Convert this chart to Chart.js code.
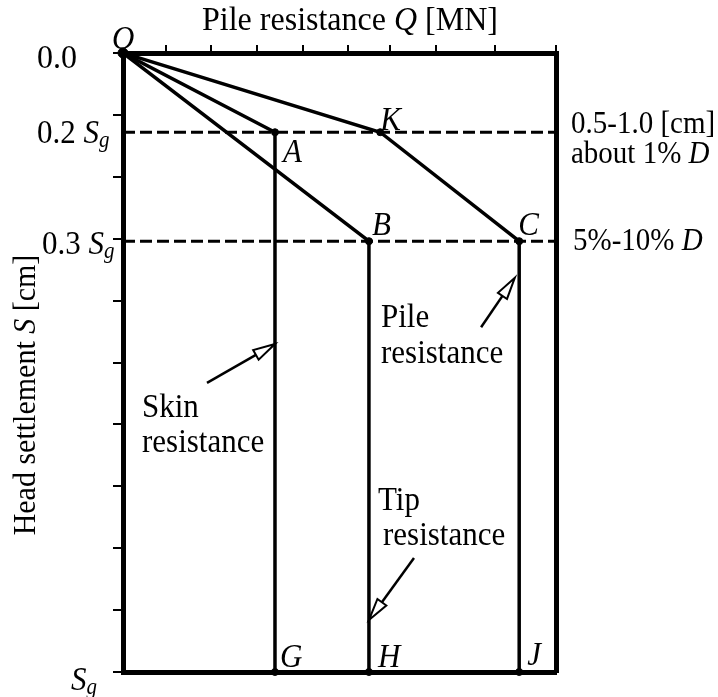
<!DOCTYPE html>
<html>
<head>
<meta charset="utf-8">
<script src="https://cdn.jsdelivr.net/npm/chart.js@4.4.1/dist/chart.umd.min.js"></script>
<style>
  html, body { margin: 0; padding: 0; background: #fff; }
  canvas { display: block; }
</style>
</head>
<body>
<canvas id="c" width="718" height="697"></canvas>
<script>
// ---------------- DATA ----------------
// Axis units: Q from 0 to 10 (schematic), S from 0 (top) to 10 (= Sg, bottom)
const pointNames = ['O', 'A', 'K', 'B', 'C', 'G', 'H', 'J'];
const pointQ     = [0,   3.51, 5.94, 5.68, 9.15, 3.51, 5.68, 9.15];
const pointS     = [0,   1.28, 1.28, 3.04, 3.04, 10,   10,   10];

const skinPath = ['O', 'A', 'G'];
const tipPath  = ['O', 'B', 'H'];
const pilePath = ['O', 'K', 'C', 'J'];

const levelS = [1.28, 3.04];           // dashed reference levels (0.2 Sg, 0.3 Sg)

const topTickValues  = [0.99, 2.03, 3.09, 4.16, 5.20, 6.17, 7.23, 8.59, 10];
const leftTickValues = [0, 1, 2, 3, 4, 5, 6, 7, 8, 9, 10];

// left axis labels: [value, parts]
const leftLabelValues = [0, 1.28, 3.04, 10];
const leftLabelParts = [
  [['0.0', '']],
  [['0.2 ', ''], ['S', 'i'], ['g', 'sub']],
  [['0.3 ', ''], ['S', 'i'], ['g', 'sub']],
  [['S', 'i'], ['g', 'sub']]
];

// right-side level notes
const rightNoteValues = [1.28, 1.28, 3.04];
const rightNoteParts = [
  [['0.5-1.0 [cm]', '']],
  [['about 1% ', ''], ['D', 'i']],
  [['5%-10% ', ''], ['D', 'i']]
];

// arrows: tail (Q,S) -> tip (Q,S)
const arrowTailQ = [1.94, 8.27, 6.72];
const arrowTailS = [5.33, 4.43, 8.16];
const arrowTipQ  = [3.51, 9.05, 5.68];
const arrowTipS  = [4.70, 3.63, 9.16];

const noteTexts = ['Skin', 'resistance', 'Pile', 'resistance', 'Tip', 'resistance'];

// ---------------- LAYOUT / STYLE ----------------
const FONT = '"Liberation Serif", "Times New Roman", serif';
const STRETCH = 1.07; // slight vertical stretch of the reference lettering
const layoutPx = {
  top: 53, left: 123, right: 718 - 556, bottom: 697 - 672
};
// label offsets relative to point pixel (dx, dy to baseline)
const pointLabelOffsets = {
  O: [-11, -4], A: [8, 30], K: [0, -2], B: [3, -6], C: [-1, -6],
  G: [5, -5], H: [9, -5], J: [8, -7]
};
const leftLabelPos = [[37, 15, 'left', 32], [37, 11, 'left', 31], [42, 13, 'left', 31], [71, 18, 'left', 31]];
const rightNotePos = [[571, 1], [571, 31], [573, 9]];
const notePos = [[142, 417], [142, 452], [381, 327], [381, 363], [378, 510], [383, 545]];

function idx(n) { return pointNames.indexOf(n); }
function pathData(p) { return p.map(n => ({ x: pointQ[idx(n)], y: pointS[idx(n)] })); }

function fontFor(st, size) {
  if (st === 'sub') return 'italic ' + Math.round(size * 0.68) + 'px ' + FONT;
  if (st === 'i') return 'italic ' + size + 'px ' + FONT;
  return size + 'px ' + FONT;
}
function drawRich(ctx, parts, x, y, size, align) {
  let w = 0;
  parts.forEach(p => { ctx.font = fontFor(p[1], size); w += ctx.measureText(p[0]).width; });
  let cx = align === 'center' ? x - w / 2 : (align === 'right' ? x - w : x);
  ctx.save();
  ctx.translate(0, y);
  ctx.scale(1, STRETCH);
  ctx.textAlign = 'left';
  ctx.textBaseline = 'alphabetic';
  parts.forEach(p => {
    ctx.font = fontFor(p[1], size);
    ctx.fillText(p[0], cx, (p[1] === 'sub' ? size * 0.12 : 0));
    cx += ctx.measureText(p[0]).width;
  });
  ctx.restore();
}

function drawArrow(ctx, x1, y1, x2, y2) {
  const ang = Math.atan2(y2 - y1, x2 - x1);
  const L = 22, H = 5.5;
  const bx = x2 - L * Math.cos(ang), by = y2 - L * Math.sin(ang);
  ctx.save();
  ctx.strokeStyle = '#000';
  ctx.lineWidth = 2.5;
  ctx.beginPath();
  ctx.moveTo(x1, y1);
  ctx.lineTo(bx, by);
  ctx.stroke();
  ctx.beginPath();
  ctx.moveTo(x2, y2);
  ctx.lineTo(bx + H * Math.sin(ang), by - H * Math.cos(ang));
  ctx.lineTo(bx - H * Math.sin(ang), by + H * Math.cos(ang));
  ctx.closePath();
  ctx.fillStyle = '#fff';
  ctx.fill();
  ctx.lineWidth = 2;
  ctx.stroke();
  ctx.restore();
}

const annotPlugin = {
  id: 'annot',
  afterDraw(chart) {
    const ctx = chart.ctx;
    const xs = chart.scales.x, ys = chart.scales.y;
    ctx.save();
    ctx.fillStyle = '#000';

    // title
    drawRich(ctx, [['Pile resistance ', ''], ['Q', 'i'], [' [MN]', '']], 350, 30, 32, 'center');

    // y title (rotated)
    ctx.save();
    ctx.translate(35, 395);
    ctx.rotate(-Math.PI / 2);
    drawRich(ctx, [['Head settlement ', ''], ['S', 'i'], [' [cm]', '']], 0, 0, 30, 'center');
    ctx.restore();

    // left labels
    leftLabelValues.forEach((v, i) => {
      const p = leftLabelPos[i];
      drawRich(ctx, leftLabelParts[i], p[0], ys.getPixelForValue(v) + p[1], p[3], p[2]);
    });

    // right notes
    rightNoteValues.forEach((v, i) => {
      const p = rightNotePos[i];
      drawRich(ctx, rightNoteParts[i], p[0], ys.getPixelForValue(v) + p[1], 29, 'left');
    });

    // point labels
    pointNames.forEach((n, i) => {
      const o = pointLabelOffsets[n];
      drawRich(ctx, [[n, 'i']], xs.getPixelForValue(pointQ[i]) + o[0], ys.getPixelForValue(pointS[i]) + o[1], 31, 'left');
    });

    // notes
    noteTexts.forEach((t, i) => {
      drawRich(ctx, [[t, '']], notePos[i][0], notePos[i][1], 31, 'left');
    });

    // arrows
    arrowTailQ.forEach((q, i) => {
      drawArrow(ctx,
        xs.getPixelForValue(q), ys.getPixelForValue(arrowTailS[i]),
        xs.getPixelForValue(arrowTipQ[i]), ys.getPixelForValue(arrowTipS[i]));
    });
    ctx.restore();
  }
};

const lineStyle = { showLine: true, borderColor: '#000', backgroundColor: '#000', borderWidth: 3.5, pointRadius: 0, fill: false, tension: 0 };

new Chart(document.getElementById('c'), {
  type: 'scatter',
  data: {
    datasets: [
      Object.assign({ label: 'Skin resistance', data: pathData(skinPath) }, lineStyle),
      Object.assign({ label: 'Tip resistance', data: pathData(tipPath) }, lineStyle),
      Object.assign({ label: 'Pile resistance', data: pathData(pilePath) }, lineStyle),
      ...levelS.map(s => ({
        label: 'level', data: [{ x: 0, y: s }, { x: 10, y: s }],
        showLine: true, borderColor: '#000', borderWidth: 3, borderDash: [12, 5], pointRadius: 0
      })),
      {
        label: 'points',
        data: pointNames.map((n, i) => ({ x: pointQ[i], y: pointS[i] })),
        showLine: false, pointRadius: pointNames.map(n => n === 'O' ? 5 : 3.5),
        pointBackgroundColor: '#000', pointBorderColor: '#000', clip: 10
      }
    ]
  },
  options: {
    responsive: false,
    animation: false,
    devicePixelRatio: 1,
    layout: { padding: 0 },
    plugins: { legend: { display: false }, tooltip: { enabled: false }, title: { display: false } },
    scales: {
      x: {
        type: 'linear', position: 'top', min: 0, max: 10,
        afterBuildTicks: s => { s.ticks = topTickValues.map(v => ({ value: v })); },
        afterFit: s => { s.height = layoutPx.top; },
        grid: { drawOnChartArea: false, drawTicks: true, tickLength: 8, lineWidth: 2, color: '#000' },
        border: { width: 5, color: '#000' },
        ticks: { callback: () => '', padding: 0 }
      },
      xb: {
        type: 'linear', position: 'bottom', min: 0, max: 10,
        afterFit: s => { s.height = layoutPx.bottom; },
        grid: { display: false },
        border: { width: 5, color: '#000' },
        ticks: { display: false }
      },
      y: {
        type: 'linear', position: 'left', reverse: true, min: 0, max: 10,
        afterBuildTicks: s => { s.ticks = leftTickValues.map(v => ({ value: v })); },
        afterFit: s => { s.width = layoutPx.left; },
        grid: { drawOnChartArea: false, drawTicks: true, tickLength: 10, lineWidth: 2, color: '#000' },
        border: { width: 5, color: '#000' },
        ticks: { callback: () => '', padding: 0 }
      },
      yr: {
        type: 'linear', position: 'right', reverse: true, min: 0, max: 10,
        afterFit: s => { s.width = layoutPx.right; },
        grid: { display: false },
        border: { width: 5, color: '#000' },
        ticks: { display: false }
      }
    }
  },
  plugins: [annotPlugin]
});
</script>
</body>
</html>
